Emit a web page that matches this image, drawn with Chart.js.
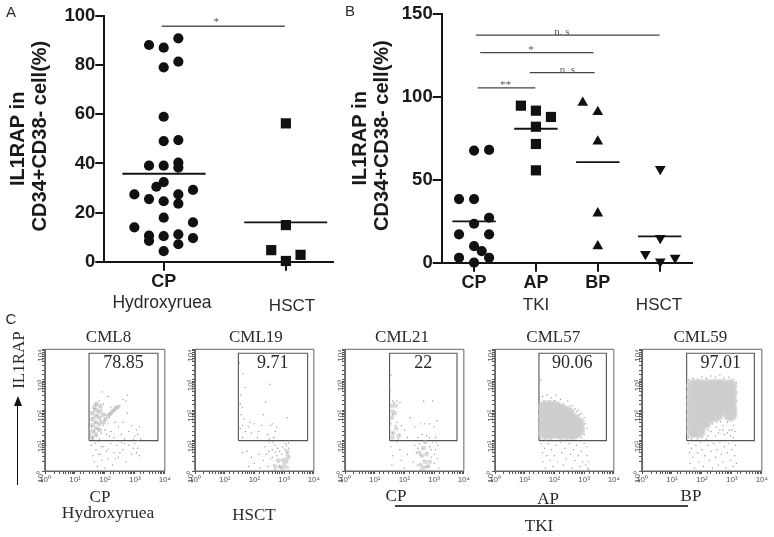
<!DOCTYPE html>
<html><head><meta charset="utf-8">
<script src="https://cdn.jsdelivr.net/npm/chart.js@4"></script>
<style>
html,body{margin:0;padding:0;background:#fff;width:774px;height:537px;overflow:hidden}
#page{position:absolute;left:0;top:0;width:774px;height:537px;filter:blur(0.4px)}
canvas{position:absolute;display:block}
.t{position:absolute;transform:translate(-50%,-50%);white-space:nowrap;color:#2a2a2a;line-height:1}
.sans{font-family:"Liberation Sans",sans-serif}
.serif{font-family:"Liberation Serif",serif}
#arrow{position:absolute;left:16.5px;top:403px;width:1.6px;height:82px;background:#111}
#head{position:absolute;left:13.5px;top:396px;width:0;height:0;border-left:4px solid transparent;border-right:4px solid transparent;border-bottom:10px solid #111}
#tkiLine{position:absolute;left:395px;top:505px;width:293px;height:1.6px;background:#444}
</style></head><body><div id="page">
<div class="t sans" style="left:11px;top:11px;font-size:15px">A</div>
<div class="t sans" style="left:350px;top:10px;font-size:15px">B</div>
<div class="t sans" style="left:11px;top:318px;font-size:15px">C</div>
<div class="t sans" style="left:162px;top:303px;font-size:17.5px">Hydroxyruea</div>
<div class="t sans" style="left:292px;top:305px;font-size:17px">HSCT</div>
<div class="t sans" style="left:536px;top:304px;font-size:17px">TKI</div>
<div class="t sans" style="left:659px;top:304px;font-size:17px">HSCT</div>
<div class="t serif" style="left:18px;top:360px;font-size:17px;transform:translate(-50%,-50%) rotate(-90deg)">IL1RAP</div>
<div id="arrow"></div><div id="head"></div>
<div class="t serif" style="left:100px;top:496px;font-size:17px">CP</div>
<div class="t serif" style="left:108px;top:513px;font-size:17.5px">Hydroxyruea</div>
<div class="t serif" style="left:254px;top:514px;font-size:17px">HSCT</div>
<div class="t serif" style="left:396px;top:495px;font-size:17px">CP</div>
<div class="t serif" style="left:548px;top:498px;font-size:17px">AP</div>
<div class="t serif" style="left:691px;top:495px;font-size:17px">BP</div>
<div class="t serif" style="left:539px;top:525px;font-size:17px">TKI</div>
<div id="tkiLine"></div>
</div>
<script>
// ---------- Panel A ----------
const aTicks = [0, 20, 40, 60, 80, 100];
const aCategories = ['CP', ''];
const aCP = [[1.12,90.9],[0.88,88.2],[1,87.1],[1.12,81.4],[1,79.1],[1,59],[1,49.1],[1.12,49.5],[0.88,39.1],[1,39.1],[1.12,40.3],[1.12,38.3],[1,32.4],[0.94,30.5],[1.24,29.2],[0.76,27.4],[1.12,27.4],[0.88,25.5],[1,24.6],[1.12,23.6],[1,17.9],[1.24,16],[0.76,14],[0.88,10.6],[0.88,8.5],[1,10.4],[1.12,11.1],[1.24,9.6],[1.12,7.1],[1,4.3]];
const aHSCT = [[2,56.3],[2,14.9],[1.88,4.7],[2.12,2.8],[2,0.3]];
const aMeans = [[0.662,1.343,35.8],[1.659,2.338,16]];
const aSigBars = [[0.984,1.992,95.8]];
const aSigText = [['*',1.43,97.4]];
// ---------- Panel B ----------
const bTicks = [0, 50, 100, 150];
const bCategories = ['CP','AP','BP',''];
const bCP = [[1,67.6],[1.243,68],[0.757,38.4],[1,38.4],[1.243,27.1],[1,23.5],[0.757,17.1],[1.243,17.1],[1,10],[1.124,7],[0.757,3],[1.243,3],[1,0]];
const bAP = [[1.757,94.7],[2,91.7],[2.243,87.9],[2,82],[2,71.6],[2,55.7]];
const bBP = [[2.757,96.5],[3,90.9],[3,73.2],[3,29.8],[3,10]];
const bHSCT = [[4.01,56.5],[4.01,14.9],[3.77,5.2],[4.25,3],[4.01,0.6]];
const bMeans = [[0.649,1.351,24.9],[1.649,2.351,80.8],[2.649,3.351,60.7],[3.649,4.351,15.9]];
const bSigBars = [[1.03,4,137.3],[1.1,2.93,126.7],[1.9,2.95,114.6],[1.06,1.99,105.4]];
const bSigText = [['n. s',2.42,139],['*',1.92,128.4],['n. s',2.51,116],['**',1.51,107]];
// ---------- Panel C : readings given as log10(fluorescence) pairs ----------
const decades = [0,1,2,3,4];
const supers = ['10\u2070','10\u00b9','10\u00b2','10\u00b3','10\u2074'];
const c8Cloud = [[1.58,1.1],[1.58,1.3],[1.58,1.5],[1.58,1.7],[1.58,1.9],[1.65,2.1],[1.7,1.2],[1.7,1.4],[1.7,1.6],[1.7,1.8],[1.7,2.0],[1.72,2.2],[1.82,1.35],[1.82,1.55],[1.82,1.75],[1.82,1.95],[1.85,2.12],[1.95,1.6],[2.02,1.7],[2.1,1.82],[2.18,1.88],[2.26,1.96],[2.34,2.04],[2.42,2.1],[1.95,1.85]];
const c8Dots = [[1.52,1.2],[1.55,1.45],[1.58,1.1],[1.6,1.75],[1.62,2.05],[1.65,1.3],[1.68,1.6],[1.7,2.2],[1.72,1.15],[1.75,1.85],[1.78,1.4],[1.8,2.3],[1.82,1.05],[1.85,1.65],[1.88,1.25],[1.9,2.0],[1.95,1.5],[2.0,1.7],[2.05,1.2],[2.1,1.55],[2.15,1.75],[2.2,1.9],[2.3,2.0],[2.4,2.1],[2.5,2.15],[2.2,1.3],[2.3,1.1],[2.45,1.45],[2.55,1.2],[2.6,1.6],[2.7,2.3],[2.75,1.9],[2.8,1.3],[2.9,1.5],[3.0,1.15],[3.05,1.35],[2.95,1.05],[3.1,1.2],[3.15,1.45],[3.2,1.05],[1.9,2.6],[2.1,2.45],[2.6,2.35],[2.75,2.5],[1.55,0.85],[1.6,0.5],[1.65,0.3],[1.7,0.7],[1.75,0.15],[1.8,0.95],[1.85,0.55],[1.9,0.35],[1.95,0.8],[2.0,0.1],[2.05,0.65],[2.1,0.4],[2.2,0.9],[2.25,0.2],[2.3,0.6],[2.4,0.85],[2.45,0.45],[2.55,0.95],[2.6,0.7],[2.7,0.3],[2.8,0.85],[2.9,0.55],[3.0,0.9],[3.05,0.6],[3.1,0.75],[3.15,0.5],[1.6,1.05],[1.68,0.92],[1.78,0.55],[1.88,0.8],[2.12,0.72],[2.35,0.4],[2.5,0.6],[2.65,0.9],[2.95,0.75],[3.1,1.0],[2.0,1.35],[2.15,1.15],[2.35,1.6],[2.65,1.05],[1.95,2.2],[2.2,2.1]];
const c19Cloud = [[2.85,0.15],[3.0,0.2],[3.1,0.12],[2.7,0.15],[3.1,0.4],[3.1,0.65],[2.95,0.35],[2.8,0.35],[2.95,0.1],[3.05,0.3],[3.12,0.52]];
const c19Dots = [[1.5,3.55],[1.62,3.2],[1.68,2.75],[1.55,2.5],[1.52,2.2],[1.6,2.1],[1.55,1.85],[1.65,1.7],[1.6,1.5],[1.52,1.4],[1.7,1.3],[1.6,1.1],[1.8,1.45],[1.85,1.6],[1.9,1.25],[2.0,1.55],[2.1,1.1],[2.15,1.3],[2.25,1.5],[2.3,1.85],[2.45,1.2],[2.55,1.5],[2.6,1.55],[2.7,1.3],[2.65,1.1],[2.75,1.45],[2.5,1.05],[2.38,2.27],[2.52,2.85],[3.1,1.75],[1.6,0.6],[1.75,0.65],[1.8,0.15],[1.9,0.45],[2.0,0.25],[2.15,0.55],[2.2,0.1],[2.3,0.35],[2.35,0.8],[2.4,0.55],[2.45,0.15],[2.5,0.95],[2.55,0.4],[2.6,0.7],[2.65,0.2],[2.7,0.85],[2.75,0.5],[2.8,0.3],[2.85,0.65],[2.9,0.1],[2.95,0.8],[3.0,0.4],[3.05,0.9],[3.1,0.6],[3.15,0.75],[3.12,0.3],[3.18,0.45],[2.7,0.05],[2.85,0.15],[2.62,0.95],[2.78,0.75],[2.92,0.55],[3.02,0.72],[3.08,0.85],[2.6,0.45],[2.48,0.65],[2.72,0.62],[3.15,0.92]];
const c21Cloud = [[1.58,2.15],[1.6,1.95],[1.58,1.75],[1.7,2.15],[1.68,1.9],[1.62,1.25],[1.72,1.4],[1.6,1.1],[1.8,1.15],[2.55,0.2],[2.65,0.1],[2.7,0.3],[2.6,0.5],[2.5,0.6],[2.75,0.55],[2.8,0.15],[2.65,0.75],[2.7,0.95],[2.85,0.3]];
const c21Dots = [[1.55,3.15],[1.52,2.65],[1.6,2.3],[1.75,2.3],[1.85,2.25],[1.55,1.55],[1.6,1.25],[1.75,1.6],[1.85,1.2],[1.9,1.5],[2.0,1.35],[2.1,1.1],[2.2,1.75],[2.35,1.45],[2.45,1.1],[2.55,1.55],[2.6,1.2],[2.65,2.3],[2.68,1.55],[2.85,1.55],[2.85,1.1],[2.95,2.3],[3.0,1.45],[3.1,1.65],[3.05,1.1],[2.75,1.15],[1.8,1.05],[1.55,0.8],[1.6,0.5],[1.58,0.2],[1.75,0.95],[1.85,0.7],[1.9,0.35],[2.0,0.1],[2.1,0.55],[2.3,0.3],[2.35,0.85],[2.4,0.6],[2.45,0.2],[2.5,0.9],[2.55,0.5],[2.6,0.75],[2.65,0.35],[2.7,0.95],[2.75,0.6],[2.8,0.15],[2.85,0.8],[2.9,0.45],[2.95,0.95],[3.0,0.25],[3.05,0.7],[3.1,0.4],[3.12,0.85],[3.15,0.1],[1.6,1.85],[1.7,1.5],[1.65,2.25],[2.45,0.75],[2.55,0.05],[2.72,0.15],[2.9,0.7],[3.0,0.55],[3.08,0.95]];
const c57Cloud = [[1.68,1.25],[1.68,1.5],[1.68,1.8],[1.68,2.1],[1.85,1.25],[1.85,1.55],[1.85,1.85],[1.85,2.1],[2.05,1.3],[2.05,1.6],[2.05,1.9],[2.05,2.08],[2.25,1.25],[2.25,1.5],[2.25,1.8],[2.25,1.98],[2.45,1.25],[2.45,1.45],[2.45,1.75],[2.45,1.9],[2.65,1.25],[2.65,1.45],[2.65,1.68],[2.8,1.35],[2.8,1.55]];
const c57Core = [[2.3,1.4],[2.4,1.55],[2.5,1.35],[2.55,1.6],[2.65,1.45]];
const c57Dots = [[1.5,2.35],[1.6,2.45],[1.75,2.5],[1.9,2.4],[2.05,2.5],[2.2,2.35],[2.3,2.2],[2.45,2.3],[2.6,2.15],[2.7,2.05],[2.8,2.0],[2.9,1.9],[3.0,1.75],[3.05,1.55],[3.1,1.4],[3.0,1.2],[2.9,1.1],[2.85,1.85],[2.75,1.95],[1.52,1.05],[1.7,1.02],[1.9,1.05],[2.1,1.08],[1.55,2.2],[2.4,2.1],[2.55,2.0],[1.55,3.0],[1.55,0.9],[1.6,0.6],[1.62,0.3],[1.68,0.75],[1.7,0.1],[1.75,0.5],[1.8,0.9],[1.85,0.35],[1.9,0.7],[1.95,0.15],[2.0,0.5],[2.05,0.85],[2.1,0.3],[2.2,0.95],[2.25,0.6],[2.3,0.2],[2.35,0.75],[2.4,0.4],[2.5,0.9],[2.55,0.55],[2.6,0.1],[2.65,0.7],[2.7,0.35],[2.75,0.85],[2.8,0.5],[2.85,0.15],[2.9,0.65],[2.95,0.3],[3.0,0.9],[3.05,0.2],[3.1,0.5],[3.12,0.1],[3.15,0.3],[3.1,0.8],[3.15,0.05],[1.52,1.3],[1.55,1.6],[1.52,1.9],[1.65,2.3],[1.82,2.3],[2.0,2.32],[2.15,2.22],[2.35,2.12],[2.5,2.12],[2.65,1.98],[2.8,1.82],[2.95,1.62],[2.98,1.42],[2.92,1.28],[2.8,1.12],[2.6,1.06],[2.4,1.05],[2.2,1.06],[1.62,1.1],[1.8,1.12],[2.0,1.12]];
const c59Cloud = [[1.7,2.8],[1.9,2.8],[2.1,2.8],[2.3,2.8],[2.5,2.8],[2.7,2.8],[2.95,2.8],[1.7,2.55],[1.9,2.55],[2.1,2.55],[2.3,2.55],[2.5,2.55],[2.7,2.55],[2.95,2.55],[1.7,2.3],[1.9,2.3],[2.1,2.3],[2.3,2.3],[2.5,2.3],[2.7,2.3],[2.95,2.3],[1.7,2.05],[1.9,2.05],[2.1,2.05],[2.3,2.05],[2.5,2.05],[2.7,2.05],[2.95,2.05],[1.7,1.8],[1.9,1.8],[2.1,1.8],[2.3,1.8],[2.5,1.85],[2.95,1.85],[1.7,1.55],[1.9,1.55],[2.1,1.6],[1.7,1.3],[1.9,1.3]];
const c59Dots = [[1.55,3.0],[1.7,3.05],[1.85,3.02],[2.0,3.1],[2.15,3.05],[2.3,3.12],[2.45,3.08],[2.6,3.15],[2.75,3.05],[2.9,3.08],[3.05,3.02],[3.15,2.9],[3.15,2.6],[3.15,2.3],[3.15,2.0],[2.35,1.55],[2.5,1.6],[2.65,1.8],[2.8,1.95],[2.95,1.7],[3.05,1.5],[3.1,1.3],[2.9,1.35],[2.75,1.2],[2.6,1.35],[2.45,1.15],[2.3,1.3],[2.2,1.15],[2.85,1.6],[2.7,1.5],[2.55,1.85],[2.4,1.75],[2.95,1.15],[3.05,1.1],[1.55,1.1],[1.6,1.3],[1.65,1.05],[1.75,1.2],[1.85,1.05],[1.9,1.3],[2.0,1.1],[2.1,1.45],[2.2,1.6],[1.8,1.45],[1.6,1.55],[2.0,1.55],[1.55,0.9],[1.58,0.6],[1.6,0.25],[1.65,0.75],[1.7,0.45],[1.75,0.1],[1.8,0.85],[1.85,0.6],[1.9,0.3],[1.95,0.95],[2.0,0.7],[2.05,0.15],[2.1,0.5],[2.2,0.85],[2.25,0.35],[2.3,0.65],[2.35,0.1],[2.4,0.9],[2.45,0.45],[2.5,0.7],[2.55,0.2],[2.6,0.95],[2.65,0.55],[2.7,0.3],[2.75,0.8],[2.8,0.1],[2.85,0.6],[2.9,0.9],[2.95,0.35],[3.0,0.7],[3.05,0.15],[3.1,0.5],[3.12,0.85],[3.15,0.25],[2.3,1.7],[2.48,1.45],[2.62,1.62],[2.78,1.72],[2.88,1.82],[3.02,1.85],[2.55,1.25],[2.7,1.35],[2.85,1.25],[3.0,1.35],[2.2,1.35],[2.05,1.25],[2.15,1.05]];
const flowNames = ['CML8','CML19','CML21','CML57','CML59'];
const flowValues = ['78.85','9.71','22','90.06','97.01'];

// ---------- helpers ----------
Chart.defaults.animation = false;
const page = document.getElementById('page');
const notesPlugin = {
  id:'notes',
  afterDatasetsDraw(chart,_a,opts){
    const c=chart.ctx;
    (opts.items||[]).forEach(n=>{
      c.save();c.font=n.font;c.fillStyle=n.color;c.textAlign='center';c.textBaseline='middle';
      c.fillText(n.text,chart.scales.x.getPixelForValue(n.x),chart.scales.y.getPixelForValue(n.y));
      c.restore();
    });
  }
};
Chart.register(notesPlugin);
function makeCanvas(left,top,w,h){
  const el=document.createElement('canvas');
  el.width=w;el.height=h;el.style.left=left+'px';el.style.top=top+'px';
  el.style.width=w+'px';el.style.height=h+'px';
  page.appendChild(el);return el.getContext('2d');
}
const pts=a=>a.map(p=>({x:p[0],y:p[1]}));
const hLine=(s,color,w)=>({data:[{x:s[0],y:s[2]},{x:s[1],y:s[2]}],showLine:true,pointRadius:0,borderColor:color,borderWidth:w,clip:false});
const marks=(a,style,r,rot)=>({data:pts(a),pointStyle:style,pointRadius:r,pointRotation:rot||0,backgroundColor:'#111',borderColor:'#111',borderWidth:0,clip:false});
const INK='#141414';
function dotPlot(o){
  return new Chart(makeCanvas(o.left,0,o.w,o.h),{
    type:'scatter',
    data:{datasets:o.datasets},
    options:{
      responsive:false,devicePixelRatio:1,
      layout:{padding:{top:o.plotTop,right:o.padRight,left:0,bottom:0}},
      plugins:{legend:{display:false},tooltip:{enabled:false},notes:{items:o.notes}},
      scales:{
        x:{type:'linear',min:o.xMin,max:o.xMax,
          afterBuildTicks(s){s.ticks=o.xTicks.map(v=>({value:v}));},
          afterFit(s){s.height=o.bottomH;},
          grid:{drawOnChartArea:false,color:INK,lineWidth:2,tickLength:9,tickWidth:2,tickColor:INK},
          border:{color:INK,width:2},
          ticks:{autoSkip:false,maxRotation:0,padding:1,color:'#1a1a1a',font:{family:'Liberation Sans',size:18,weight:'bold'},
            callback:v=>o.xLabels[o.xTicks.indexOf(v)]}},
        y:{type:'linear',min:0,max:o.yMax,
          afterBuildTicks(s){s.ticks=o.yTicks.map(v=>({value:v}));},
          afterFit(s){s.width=o.axisW;},
          grid:{drawOnChartArea:false,color:INK,lineWidth:2,tickLength:9,tickWidth:2,tickColor:INK},
          border:{color:INK,width:2},
          title:{display:true,text:['IL1RAP in',' CD34+CD38- cell(%)'],color:'#1a1a1a',font:{family:'Liberation Sans',size:20,weight:'bold',lineHeight:1.13},padding:{top:o.titlePad,bottom:0}},
          ticks:{autoSkip:false,padding:0,color:'#1a1a1a',font:{family:'Liberation Sans',size:18.5,weight:'bold'}}}
      }
    }
  });
}
const sigFont='11px "Liberation Serif"';
dotPlot({left:0,w:340,h:310,plotTop:16,padRight:5,axisW:104.3,bottomH:48.3,titlePad:7,
  xMin:0.514,xMax:2.384,yMax:100,xTicks:[1,2],xLabels:aCategories,yTicks:aTicks,
  notes:aSigText.map(s=>({text:s[0],x:s[1],y:s[2],font:sigFont,color:'#555'})),
  datasets:[...aSigBars.map(s=>hLine(s,'#555',1.4)),marks(aCP,'circle',5.1),marks(aHSCT,'rect',7.2),...aMeans.map(s=>hLine(s,INK,1.8))]});
dotPlot({left:340,w:360,h:315,plotTop:14,padRight:8,axisW:101.7,bottomH:52.3,titlePad:9,
  xMin:0.477,xMax:4.523,yMax:150,xTicks:[1,2,3,4],xLabels:bCategories,yTicks:bTicks,
  notes:bSigText.map(s=>({text:s[0],x:s[1],y:s[2],font:sigFont,color:'#555'})),
  datasets:[...bSigBars.map(s=>hLine(s,'#444',1.2)),marks(bCP,'circle',5.1),marks(bAP,'rect',7.2),marks(bBP,'triangle',6.2),marks(bHSCT,'triangle',6.2,180),...bMeans.map(s=>hLine(s,INK,1.8))]});

function flow(o){
  const lin=a=>a.map(p=>({x:Math.pow(10,p[0]),y:Math.pow(10,p[1])}));
  const frame=[[0,0],[4,0],[4,4],[0,4],[0,0]];
  const gate=[[o.g0,1],[o.g1,1],[o.g1,3.87],[o.g0,3.87],[o.g0,1]];
  const axis=extra=>Object.assign({type:'logarithmic',min:1,max:10000,
    grid:{drawOnChartArea:false,tickLength:3,tickColor:'#555',tickWidth:1},
    border:{color:'#666',width:1},
    ticks:{autoSkip:false,padding:1,color:'#555',font:{family:'Liberation Sans',size:8},
      callback:v=>{const i=decades.findIndex(d=>Math.abs(Math.pow(10,d)-v)<1e-6);return i<0?'':supers[i];}}},extra);
  const yAxis=axis({afterFit(s){s.width=18;}});yAxis.ticks.minRotation=90;yAxis.ticks.maxRotation=90;
  const xAxis=axis({afterFit(s){s.height=18;}});xAxis.ticks.maxRotation=0;
  const clouds=[];
  if(o.halo) clouds.push({data:lin(o.cloud),pointRadius:o.cloudR+1.6,backgroundColor:o.halo,borderWidth:0});
  clouds.push({data:lin(o.cloud),pointRadius:o.cloudR,backgroundColor:o.cloudColor,borderWidth:0});
  if(o.core) clouds.push({data:lin(o.core),pointRadius:5,backgroundColor:'rgba(190,190,190,0.5)',borderWidth:0});
  return new Chart(makeCanvas(o.left-18,328,o.w+18+6,161),{
    type:'scatter',
    data:{datasets:[...clouds,
      {data:lin(o.dots),pointRadius:0.7,backgroundColor:'#999',borderWidth:0},
      {data:lin(frame),showLine:true,pointRadius:0,borderColor:'#666',borderWidth:1,clip:false},
      {data:lin(gate),showLine:true,pointRadius:0,borderColor:'#555',borderWidth:1.1,clip:false}
    ]},
    options:{responsive:false,devicePixelRatio:1,
      layout:{padding:{top:21.3,right:6,left:0,bottom:0}},
      plugins:{legend:{display:false},tooltip:{enabled:false},notes:{items:[
        {text:o.name,x:Math.pow(10,o.nameX),y:Math.pow(10,4.38),font:'17px "Liberation Serif"',color:'#2a2a2a'},
        {text:o.value,x:Math.pow(10,o.valueX),y:Math.pow(10,3.55),font:'18px "Liberation Serif"',color:'#2a2a2a'}]}},
      scales:{x:xAxis,y:yAxis}}
  });
}
flow({left:45,w:121,g0:1.47,g1:3.77,name:flowNames[0],value:flowValues[0],nameX:2.12,valueX:2.62,cloud:c8Cloud,dots:c8Dots,cloudR:2.4,cloudColor:'rgba(170,170,170,0.5)'});
flow({left:195,w:120,g0:1.46,g1:3.79,name:flowNames[1],value:flowValues[1],nameX:2.05,valueX:2.62,cloud:c19Cloud,dots:c19Dots,cloudR:2.2,cloudColor:'rgba(175,175,175,0.45)'});
flow({left:345,w:120.3,g0:1.5,g1:3.77,name:flowNames[2],value:flowValues[2],nameX:1.92,valueX:2.63,cloud:c21Cloud,dots:c21Dots,cloudR:2.4,cloudColor:'rgba(175,175,175,0.45)'});
flow({left:494.7,w:120.6,g0:1.48,g1:3.75,name:flowNames[3],value:flowValues[3],nameX:1.96,valueX:2.6,cloud:c57Cloud,dots:c57Dots,cloudR:5.5,cloudColor:'#d2d2d2',halo:'rgba(205,205,205,0.6)',core:c57Core});
flow({left:642.3,w:121,g0:1.49,g1:3.75,name:flowNames[4],value:flowValues[4],nameX:1.95,valueX:2.63,cloud:c59Cloud,dots:c59Dots,cloudR:5.5,cloudColor:'#d2d2d2',halo:'rgba(205,205,205,0.6)'});
</script>
</body></html>
